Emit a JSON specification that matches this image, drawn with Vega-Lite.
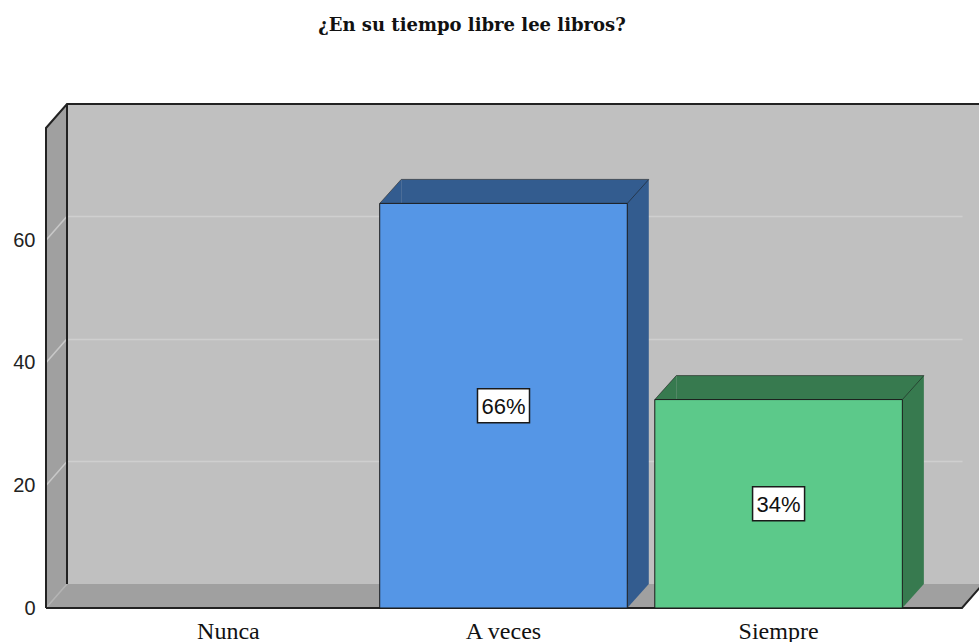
{
  "$schema": "https://vega.github.io/schema/vega-lite/v6.json",
  "width": 912,
  "height": 480,
  "autosize": "none",
  "padding": {"left": 67, "top": 104, "right": 0, "bottom": 58},
  "background": "white",
  "config": {
    "view": {"fill": "#C0C0C0", "stroke": null},
    "axisX": {
      "labelAngle": 0, "domain": false, "ticks": false, "tickSize": 0, "grid": false,
      "labelOffset": -21.5, "labelPadding": 54, "labelBaseline": "alphabetic",
      "labelFont": "Liberation Serif", "labelFontSize": 24, "labelColor": "#111111"
    },
    "axisY": {
      "domain": false, "ticks": false, "tickSize": 0,
      "offset": 21, "labelPadding": 11, "labelOffset": 24,
      "labelFont": "Liberation Sans", "labelFontSize": 20, "labelColor": "#222222",
      "grid": true, "gridWidth": 1.5, "gridColor": "#CFCFCF"
    }
  },
  "title": {
    "text": "¿En su tiempo libre lee libros?",
    "font": "DejaVu Serif",
    "fontSize": 18,
    "fontWeight": "bold",
    "color": "#111111",
    "anchor": "middle",
    "frame": "group",
    "dx": -51,
    "baseline": "alphabetic",
    "offset": 51
  },
  "datasets": {
    "respuestas": [
      {"respuesta": "Nunca", "n": 0, "pct": 0},
      {"respuesta": "A veces", "n": 66, "pct": 0.66},
      {"respuesta": "Siempre", "n": 34, "pct": 0.34}
    ],
    "marco": [{"pieza": "marco"}],
    "grilla": [{"v": 20}, {"v": 40}, {"v": 60}]
  },
  "data": {"name": "respuestas"},
  "resolve": {"scale": {"color": "independent"}},
  "layer": [
    {
      "data": {"name": "marco"},
      "mark": {"type": "point", "shape": "M0,0 V-480 L-21,-456 V24 Z", "size": 4, "filled": true, "fill": "#A0A0A0", "strokeWidth": 0, "opacity": 1},
      "encoding": {
        "x": {"value": 0},
        "y": {"datum": 0, "type": "quantitative", "title": null, "scale": {"domain": [0, 78.3], "nice": false}}
      }
    },
    {
      "data": {"name": "marco"},
      "mark": {"type": "point", "shape": "M0,0 H916 L895,24 H-21 Z", "size": 4, "filled": true, "fill": "#A0A0A0", "strokeWidth": 0, "opacity": 1},
      "encoding": {
        "x": {"value": 0},
        "y": {"datum": 0, "type": "quantitative", "title": null}
      }
    },
    {
      "data": {"name": "grilla"},
      "mark": {"type": "point", "shape": "M0,0 L-21,24", "size": 4, "filled": false, "stroke": "#C8C8C8", "strokeWidth": 1.5, "opacity": 1},
      "encoding": {
        "x": {"value": 0},
        "y": {"field": "v", "type": "quantitative", "title": null}
      }
    },
    {
      "data": {"name": "marco"},
      "mark": {"type": "point", "shape": "M0,0 L-21,24", "size": 4, "filled": false, "stroke": "#B4B4B4", "strokeWidth": 1.5, "opacity": 1},
      "encoding": {
        "x": {"value": 0},
        "y": {"datum": 0, "type": "quantitative", "title": null}
      }
    },
    {
      "data": {"name": "marco"},
      "mark": {"type": "point", "shape": "M-21,24 V-456 L0,-480 H930 M0,-480 V0 M-21,24 H895 L916,0", "size": 4, "filled": false, "stroke": "#222222", "strokeWidth": 2, "opacity": 1},
      "encoding": {
        "x": {"value": 0},
        "y": {"datum": 0, "type": "quantitative", "title": null}
      }
    },
    {
      "transform": [{"filter": "datum.n > 0"}],
      "mark": {"type": "bar", "strokeWidth": 0},
      "encoding": {
        "x": {
          "field": "respuesta", "type": "nominal", "title": null,
          "sort": ["Nunca", "A veces", "Siempre"],
          "scale": {"domain": ["Nunca", "A veces", "Siempre"], "range": [0, 916], "paddingInner": 0.1, "paddingOuter": 0.215}
        },
        "y": {"field": "n", "type": "quantitative", "title": null},
        "y2": {"datum": 0},
        "color": {"field": "respuesta", "type": "nominal", "legend": null,
          "scale": {"domain": ["Nunca", "A veces", "Siempre"], "range": ["#888888", "#335C8F", "#377A4F"]}}
      }
    },
    {
      "transform": [{"filter": "datum.n > 0"}],
      "mark": {"type": "point", "shape": "M0,0 L-21.5,24 H0 Z", "size": 4, "filled": true, "strokeWidth": 0, "opacity": 1},
      "encoding": {
        "x": {"field": "respuesta", "type": "nominal", "bandPosition": 0, "title": null},
        "y": {"field": "n", "type": "quantitative", "title": null},
        "color": {"field": "respuesta", "type": "nominal", "legend": null,
          "scale": {"domain": ["Nunca", "A veces", "Siempre"], "range": ["#888888", "#335C8F", "#377A4F"]}}
      }
    },
    {
      "transform": [{"filter": "datum.n > 0"}],
      "mark": {"type": "point", "shape": "M0,0 H-21.5 V24 Z", "size": 4, "filled": true, "strokeWidth": 0, "opacity": 1},
      "encoding": {
        "x": {"field": "respuesta", "type": "nominal", "bandPosition": 1, "title": null},
        "y": {"datum": 0, "type": "quantitative", "title": null},
        "color": {"field": "respuesta", "type": "nominal", "legend": null,
          "scale": {"domain": ["Nunca", "A veces", "Siempre"], "range": ["#888888", "#335C8F", "#377A4F"]}}
      }
    },
    {
      "transform": [{"filter": "datum.n > 0"}],
      "mark": {"type": "point", "shape": "M-21.5,24 L0,0 H247.6 L226.1,24", "size": 4, "filled": false, "stroke": "#1A1A1A", "strokeOpacity": 0.55, "strokeWidth": 1, "opacity": 1},
      "encoding": {
        "x": {"field": "respuesta", "type": "nominal", "bandPosition": 0, "title": null},
        "y": {"field": "n", "type": "quantitative", "title": null}
      }
    },
    {
      "transform": [{"filter": "datum.n > 0"}],
      "mark": {"type": "bar", "xOffset": -21.5, "yOffset": 24, "y2Offset": 24, "stroke": "#1A1A1A", "strokeWidth": 1},
      "encoding": {
        "x": {"field": "respuesta", "type": "nominal", "title": null},
        "y": {
          "field": "n", "type": "quantitative", "title": null,
          "axis": {
            "values": [0, 20, 40, 60],
            "gridColor": {"condition": {"test": "datum.value === 0", "value": "transparent"}, "value": "#CFCFCF"}
          }
        },
        "y2": {"datum": 0},
        "color": {"field": "respuesta", "type": "nominal", "legend": null,
          "scale": {"domain": ["Nunca", "A veces", "Siempre"], "range": ["#AAAAAA", "#5596E6", "#5CC98A"]}}
      }
    },
    {
      "transform": [{"filter": "datum.n > 0"}, {"calculate": "datum.n / 2", "as": "medio"}],
      "mark": {"type": "point", "shape": "M-26,-17 H26 V17 H-26 Z", "size": 4, "filled": true, "fill": "white", "stroke": "#1A1A1A", "strokeWidth": 1.5, "opacity": 1, "xOffset": -21.5, "yOffset": 24},
      "encoding": {
        "x": {"field": "respuesta", "type": "nominal", "title": null},
        "y": {"field": "medio", "type": "quantitative", "title": null}
      }
    },
    {
      "transform": [{"filter": "datum.n > 0"}, {"calculate": "datum.n / 2", "as": "medio"}],
      "mark": {"type": "text", "font": "Liberation Sans", "fontSize": 22, "color": "#111111", "baseline": "middle", "align": "center", "xOffset": -21.5, "yOffset": 25},
      "encoding": {
        "x": {"field": "respuesta", "type": "nominal", "title": null},
        "y": {"field": "medio", "type": "quantitative", "title": null},
        "text": {"field": "pct", "type": "quantitative", "format": ".0%"}
      }
    }
  ]
}
